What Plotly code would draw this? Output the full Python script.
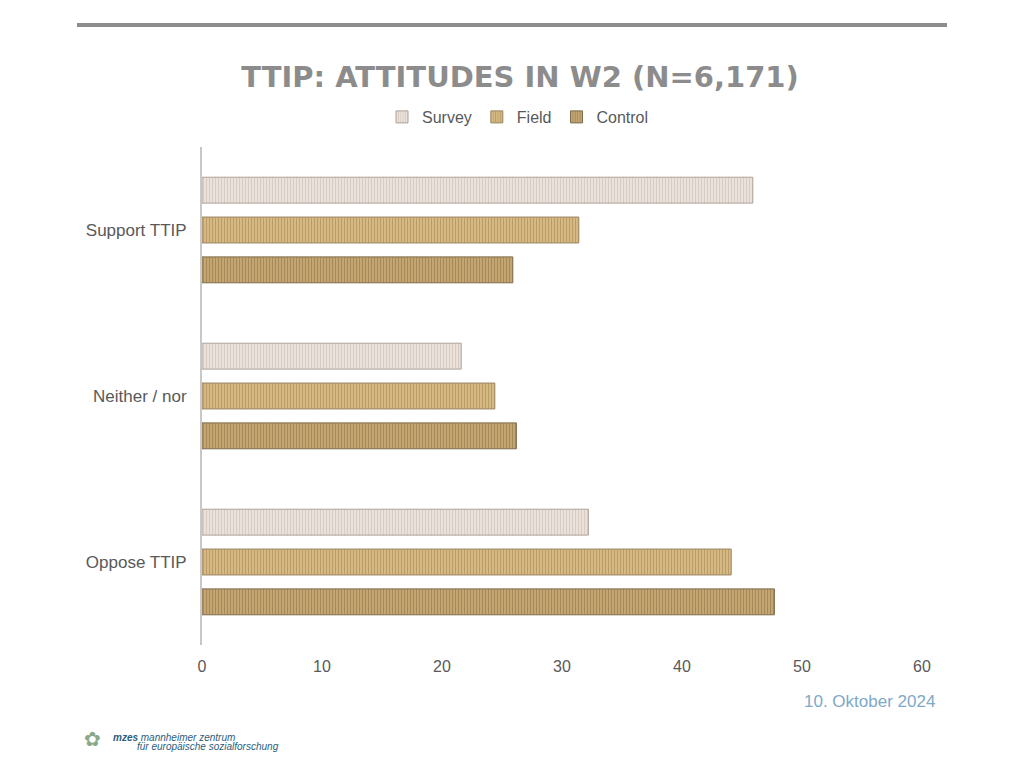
import plotly.graph_objects as go

categories = ["Support TTIP", "Neither / nor", "Oppose TTIP"]
series_names = ["Survey", "Field", "Control"]
survey = [45.9, 21.6, 32.2]
field = [31.4, 24.4, 44.1]
control = [25.9, 26.2, 47.7]
x_ticks = [0, 10, 20, 30, 40, 50, 60]

styles = {
    "Survey": dict(bg="#f0e8e2", fg="#c0b2a8", line="#aea298", sol=0.5),
    "Field": dict(bg="#dec28c", fg="#9a7846", line="#9a8462", sol=0.5),
    "Control": dict(bg="#d4b682", fg="#7a5c32", line="#7e6a4c", sol=0.6),
}

fig = go.Figure()
for name, vals in zip(series_names, [survey, field, control]):
    s = styles[name]
    fig.add_trace(go.Bar(
        name=name, y=categories, x=vals, orientation="h",
        marker=dict(
            color=s["bg"],
            line=dict(color=s["line"], width=1),
            pattern=dict(shape="|", fgcolor=s["fg"], bgcolor=s["bg"],
                         size=3, solidity=s["sol"], fillmode="overlay"),
        ),
    ))

# screen offset of 8px (page body margin)
L, T, R, B = 194, 139, 914, 637
PW, PH = R - L, B - T

def px(x):
    return (x - 8 - L) / PW

def py(y):
    return (B - (y - 8)) / PH

fig.update_layout(
    width=1024, height=768,
    paper_bgcolor="white", plot_bgcolor="white",
    margin=dict(l=L, r=1024 - R, t=T, b=768 - B),
    barmode="group", bargap=0.28, bargroupgap=0.35,
    font=dict(family="Liberation Sans, Arial, sans-serif", color="#595959", size=16),
    title=dict(text="<b>TTIP: ATTITUDES IN W2 (N=6,171)</b>",
               x=0.5, xanchor="center", y=1 - 69 / 768, yanchor="middle",
               font=dict(size=29, color="#8c8c8c", family="DejaVu Sans, Verdana, sans-serif")),
    legend=dict(orientation="h", x=px(518), xanchor="center", y=1 - 109 / 768,
                yanchor="middle", yref="container",
                font=dict(size=16, color="#595959"),
                itemwidth=30, tracegroupgap=0, bgcolor="rgba(0,0,0,0)"),
    showlegend=True,
)
fig.update_xaxes(range=[0, 60], tickvals=x_ticks, showgrid=False, zeroline=False,
                 showline=False, ticks="", tickfont=dict(size=16, color="#595959"),
                 ticklabelstandoff=10, fixedrange=True)
fig.update_yaxes(autorange="reversed", showline=True, linecolor="#c8c8c8", linewidth=2,
                 showgrid=False, ticks="", tickfont=dict(size=17, color="#595959"),
                 ticklabelstandoff=10, fixedrange=True)

# top rule
fig.add_shape(type="line", xref="paper", yref="paper",
              x0=px(77), x1=px(947), y0=py(25), y1=py(25),
              line=dict(color="#8c8c8c", width=4))

# date
fig.add_annotation(text="10. Oktober 2024", xref="paper", yref="paper",
                   x=px(937), y=py(701), xanchor="right", yanchor="middle",
                   showarrow=False, font=dict(size=17, color="#80a9c8"))

# logo text
fig.add_annotation(text="<i><b>mzes</b> mannheimer zentrum</i>", xref="paper", yref="paper",
                   x=px(111), y=py(737), xanchor="left", yanchor="middle",
                   showarrow=False, font=dict(size=10, color="#2b5d7c"))
fig.add_annotation(text="<i>für europäische sozialforschung</i>", xref="paper", yref="paper",
                   x=px(135), y=py(746), xanchor="left", yanchor="middle",
                   showarrow=False, font=dict(size=10, color="#2b5d7c"))
fig.add_annotation(text="✿", xref="paper", yref="paper",
                   x=px(82), y=py(739), xanchor="left", yanchor="middle",
                   showarrow=False, font=dict(size=20, color="#8aa88a"))

fig.write_html("out.html")
